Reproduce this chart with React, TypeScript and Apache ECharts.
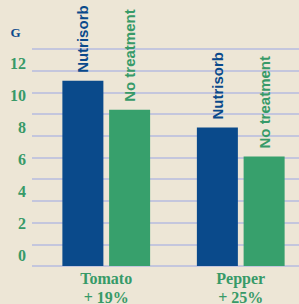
import React, { useEffect, useRef } from "react";
import * as echarts from "echarts";

const categories = ["Tomato\n+ 19%", "Pepper\n+ 25%"];
const nutrisorb = [11.5, 8.6];
const noTreatment = [9.7, 6.8];
const tickMin = 0;
const tickMax = 12;
const tickStep = 2;

const BLUE = "#0a4a8b";
const GREEN = "#37a06c";
const LABEL_GREEN = "#379a68";
const GRID = "#c4c6dd";
const BG = "#ede6d6";
const SERIF = "'Liberation Serif', 'Times New Roman', serif";
const SANS = "'Liberation Sans', Arial, sans-serif";

export default function App() {
  const ref = useRef<HTMLDivElement>(null);
  useEffect(() => {
    if (!ref.current) return;
    const chart = echarts.init(ref.current, null, { renderer: "svg" });
    const barLabel = (color: string) => ({
      show: true,
      position: "top",
      rotate: 90,
      align: "left",
      verticalAlign: "middle",
      distance: 8,
      formatter: "{a}",
      color,
      fontFamily: SANS,
      fontWeight: "bold",
      fontSize: 15,
    });
    chart.setOption({
      animation: false,
      backgroundColor: BG,
      grid: [
        { left: 32, right: 0, top: 49, height: 217, outerBoundsMode: "none", containLabel: false },
        { left: 39, width: 269, top: 49, height: 217, outerBoundsMode: "none", containLabel: false },
        { left: 32, width: 10, top: 63.5, height: 192, outerBoundsMode: "none", containLabel: false },
      ],
      xAxis: [
        { type: "category", gridIndex: 0, data: categories, show: false },
        {
          type: "category",
          gridIndex: 1,
          data: categories,
          axisLine: { show: false },
          axisTick: { show: false },
          axisLabel: {
            color: LABEL_GREEN,
            fontFamily: SERIF,
            fontWeight: "bold",
            fontSize: 16,
            lineHeight: 19,
            margin: 3,
          },
        },
        { type: "category", gridIndex: 2, data: categories, show: false },
      ],
      yAxis: [
        {
          type: "value",
          gridIndex: 0,
          min: 0,
          max: 10,
          interval: 1,
          axisLabel: { show: false },
          axisLine: { show: false },
          axisTick: { show: false },
          splitLine: { show: true, lineStyle: { color: GRID, width: 2 } },
        },
        {
          type: "value",
          gridIndex: 1,
          min: 0,
          max: 13.48,
          show: false,
          splitLine: { show: false },
        },
        {
          type: "value",
          gridIndex: 2,
          min: tickMin,
          max: tickMax,
          interval: tickStep,
          axisLine: { show: false },
          axisTick: { show: false },
          splitLine: { show: false },
          axisLabel: {
            color: LABEL_GREEN,
            fontFamily: SERIF,
            fontWeight: "bold",
            fontSize: 16,
            margin: 6,
          },
        },
      ],
      series: [
        {
          name: "Nutrisorb",
          type: "bar",
          xAxisIndex: 1,
          yAxisIndex: 1,
          data: nutrisorb,
          barWidth: 41,
          barGap: "14%",
          itemStyle: { color: BLUE },
          label: barLabel(BLUE),
        },
        {
          name: "No treatment",
          type: "bar",
          xAxisIndex: 1,
          yAxisIndex: 1,
          data: noTreatment,
          barWidth: 41,
          barGap: "14%",
          itemStyle: { color: GREEN },
          label: barLabel(LABEL_GREEN),
        },
      ],
      graphic: [
        {
          type: "text",
          x: 15.5,
          y: 32,
          style: {
            text: "G",
            fill: BLUE,
            font: `bold 13px ${SERIF}`,
            textAlign: "center",
            textVerticalAlign: "middle",
          },
        },
      ],
    });
    return () => chart.dispose();
  }, []);
  return (
    <div
      ref={ref}
      style={{ position: "absolute", left: 0, top: 0, width: 299, height: 304 }}
    />
  );
}
